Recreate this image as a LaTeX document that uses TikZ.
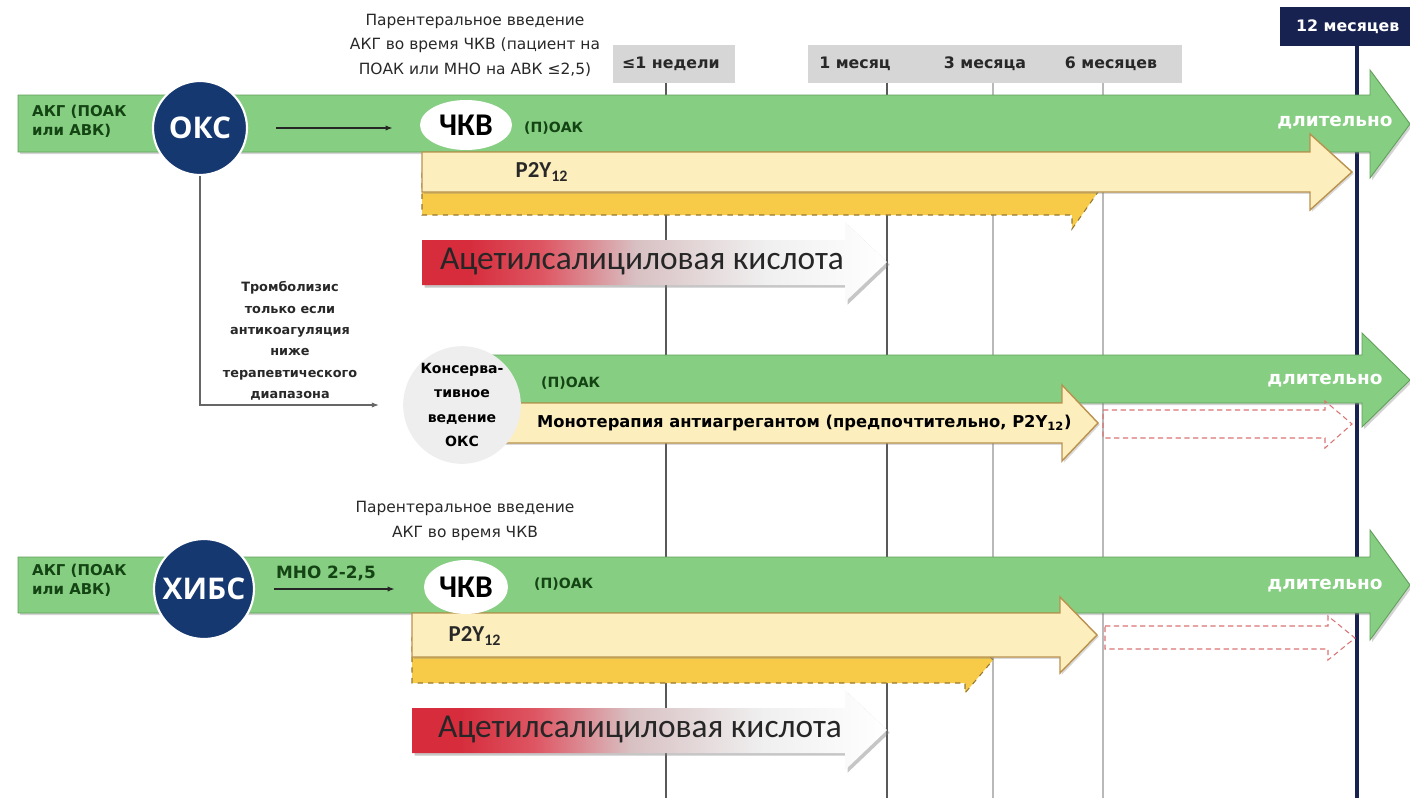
\documentclass[tikz,border=0pt]{standalone}
\usepackage{fontspec}
\setmainfont{DejaVu Sans}
\newfontfamily\calfont{Carlito}
\newfontfamily\osfont{Open Sans}
\usetikzlibrary{shapes.geometric,shadows,arrows.meta}
\definecolor{grn}{RGB}{134,206,130}
\definecolor{grnD}{RGB}{96,160,88}
\definecolor{grnT}{RGB}{20,68,20}
\definecolor{navy}{RGB}{22,56,112}
\definecolor{navyD}{RGB}{24,34,80}
\definecolor{ylw}{RGB}{253,238,190}
\definecolor{ylwD}{RGB}{186,146,78}
\definecolor{gold}{RGB}{247,203,72}
\definecolor{goldD}{RGB}{150,120,50}
\definecolor{aspRed}{RGB}{214,44,60}
\definecolor{hdr}{RGB}{214,214,214}
\definecolor{txt}{RGB}{40,40,40}
\definecolor{pinkD}{RGB}{218,115,115}
\pgfdeclarehorizontalshading{aspshade}{100bp}{color(0bp)=(aspRed); color(30bp)=(aspRed); color(38bp)=(aspRed!80!white); color(48bp)=(aspRed!35!gray!40!white); color(62bp)=(gray!12); color(75bp)=(white); color(100bp)=(white)}
\begin{document}
\begin{tikzpicture}[x=0.02cm,y=-0.02cm,
  band/.style={fill=grn, draw=grnD, line width=0.5pt, drop shadow={shadow xshift=1.2pt,shadow yshift=-1.2pt,opacity=0.35}},
  ybar/.style={fill=ylw, draw=ylwD, line width=0.8pt, drop shadow={shadow xshift=1pt,shadow yshift=-1pt,opacity=0.3}},
  goldbar/.style={fill=gold, draw=goldD, dashed, line width=0.6pt},
  pinkbar/.style={draw=pinkD, densely dashed, line width=0.6pt},
  aspbar/.style={shading=aspshade, drop shadow={shadow xshift=1.5pt,shadow yshift=-1.5pt,opacity=0.45}},
  gridA/.style={draw=gray!70!black, line width=0.6pt},
  gridB/.style={draw=gray!55, line width=0.6pt},
  conn/.style={draw=black!85, line width=0.7pt, -{Latex[length=4pt,width=3pt]}},
  conngray/.style={draw=gray!80!black, line width=0.6pt, -{Latex[length=4pt,width=3pt]}},
  akg/.style={anchor=west, align=left, text=grnT, font=\bfseries\fontsize{8.5pt}{11pt}\selectfont},
  circ/.style={circle, fill=navy, draw=white, line width=1.2pt, text=white, inner sep=0pt, font=\osfont\bfseries\fontsize{17pt}{19pt}\selectfont},
  ellnode/.style={ellipse, fill=white, inner sep=0pt, font=\calfont\bfseries\fontsize{18pt}{20pt}\selectfont},
  lbl/.style={anchor=west, text=grnT, font=\bfseries\fontsize{8pt}{10pt}\selectfont},
  dl/.style={text=white, font=\bfseries\fontsize{10.5pt}{12pt}\selectfont},
  p2y/.style={text=txt, font=\calfont\bfseries\fontsize{13pt}{15pt}\selectfont},
  asptext/.style={text=black!85, font=\calfont\fontsize{19pt}{21pt}\selectfont},
  toptext/.style={align=center, text=txt, font=\fontsize{8.8pt}{14pt}\selectfont},
  trombtext/.style={align=center, text=txt, font=\bfseries\fontsize{7.3pt}{12.2pt}\selectfont},
  hdrtext/.style={text=txt, font=\bfseries\fontsize{9pt}{10pt}\selectfont},
  konsnode/.style={circle, fill=gray!13, inner sep=0pt, align=center, font=\bfseries\fontsize{8pt}{13.8pt}\selectfont},
  mono/.style={anchor=west, text=black, font=\bfseries\fontsize{9.3pt}{10pt}\selectfont}
]
\useasboundingbox (0,0) rectangle (1410,798);
\clip (0,0) rectangle (1410,798);

% ---- header ----
\fill[hdr] (613,45) rectangle (735,83);
\fill[hdr] (808,45) rectangle (1182,83);
\fill[navyD] (1280,7) rectangle (1415,46);
\node[hdrtext] (w1) at (671,64) {≤1 недели};
\node[hdrtext] (m1) at (855,64) {1 месяц};
\node[hdrtext] (m3) at (985,64) {3 месяца};
\node[hdrtext] (m6) at (1111,64) {6 месяцев};
\node[hdrtext, text=white, anchor=west] (m12) at (1290,27) {12 месяцев};

% ---- grid lines ----
\draw[gridA] (666,83) -- (666,798);
\draw[gridA] (887,83) -- (887,798);
\draw[gridB] (993,83) -- (993,798);
\draw[gridB] (1103,83) -- (1103,798);
\draw[navyD, line width=2pt] (1357,46) -- (1357,798);

% ---- row 1 : OKS ----
\node[toptext] (par1) at (475,45) {Парентеральное введение\\АКГ во время ЧКВ (пациент на\\ПОАК или МНО на АВК ≤2,5)};
\path[band] (18,95) -- (1370,95) -- (1370,70) -- (1410,124) -- (1370,178) -- (1370,152) -- (18,152) -- cycle;
\path[goldbar] (422,170) -- (1072,170) -- (1072,156) -- (1098,192) -- (1072,229) -- (1072,215) -- (422,215) -- cycle;
\path[ybar] (422,152) -- (1310,152) -- (1310,134) -- (1352,172) -- (1310,210) -- (1310,192) -- (422,192) -- cycle;
\path[aspbar] (422,240) -- (845,240) -- (845,222) -- (887,262) -- (845,302) -- (845,285) -- (422,285) -- cycle;
\node[asptext] (asp1) at (642,262) {Ацетилсалициловая кислота};
\node[akg] (akg1) at (26,121) {АКГ (ПОАК\\или АВК)};
\node[circ, minimum size=1.88cm] (oks) at (200,128) {ОКС};
\node[ellnode, minimum width=1.84cm, minimum height=1cm] (chkv1) at (466,125) {ЧКВ};
\node[lbl] (poak1) at (518,128) {(П)ОАК};
\node[dl] (dl1) at (1335,123) {длительно};
\node[p2y] (p2y1) at (542,172) {P2Y\textsubscript{12}};
\draw[conn, shorten <=0.56cm, shorten >=0.54cm] (oks.east) -- (oks.east -| chkv1.west);

% ---- row 2 : conservative ----
\node[trombtext] (tromb) at (290,341) {Тромболизис\\только если\\антикоагуляция\\ниже\\терапевтического\\диапазона};
\path[band] (480,355) -- (1362,355) -- (1362,333) -- (1410,380) -- (1362,427) -- (1362,403) -- (480,403) -- cycle;
\draw[pinkbar] (1103,410) -- (1325,410) -- (1325,401) -- (1352,424) -- (1325,448) -- (1325,438) -- (1103,438) -- cycle;
\path[ybar] (480,403) -- (1062,403) -- (1062,385) -- (1098,423) -- (1062,461) -- (1062,443) -- (480,443) -- cycle;
\node[konsnode, minimum size=2cm] (kons) at (462,405) {Консерва-\\тивное\\ведение\\ОКС};
\node[lbl] (poak2) at (535,383) {(П)ОАК};
\node[mono] (mono) at (531,423) {Монотерапия антиагрегантом (предпочтительно, P2Y\textsubscript{12})};
\node[dl] (dl2) at (1325,381) {длительно};
\draw[conngray, shorten >=0.48cm] (oks.south) |- (kons.west);

% ---- row 3 : CCS ----
\node[toptext] (par2) at (465,521) {Парентеральное введение\\АКГ во время ЧКВ};
\path[band] (18,557) -- (1370,557) -- (1370,530) -- (1410,585) -- (1370,640) -- (1370,613) -- (18,613) -- cycle;
\path[goldbar] (412,637) -- (965,637) -- (965,627) -- (993,660) -- (965,693) -- (965,683) -- (412,683) -- cycle;
\draw[pinkbar] (1105,626) -- (1328,626) -- (1328,616) -- (1355,638) -- (1328,660) -- (1328,649) -- (1105,649) -- cycle;
\path[ybar] (412,613) -- (1060,613) -- (1060,597) -- (1097,635) -- (1060,673) -- (1060,657) -- (412,657) -- cycle;
\path[aspbar] (412,708) -- (845,708) -- (845,690) -- (887,730) -- (845,770) -- (845,753) -- (412,753) -- cycle;
\node[asptext] (asp2) at (640,730) {Ацетилсалициловая кислота};
\node[akg] (akg3) at (26,580) {АКГ (ПОАК\\или АВК)};
\node[circ, minimum size=2cm] (hibs) at (204,589) {ХИБС};
\node[ellnode, minimum width=1.68cm, minimum height=1.08cm] (chkv2) at (466,587) {ЧКВ};
\node[lbl] (poak3) at (528,584) {(П)ОАК};
\node[hdrtext, text=grnT, font=\bfseries\fontsize{9.6pt}{11pt}\selectfont] (mno) at (326,573) {МНО 2-2,5};
\node[dl] (dl3) at (1325,586) {длительно};
\node[p2y] (p2y3) at (475,636) {P2Y\textsubscript{12}};
\draw[conn, shorten <=0.38cm, shorten >=0.58cm] (hibs.east) -- (hibs.east -| chkv2.west);
\end{tikzpicture}
\end{document}
